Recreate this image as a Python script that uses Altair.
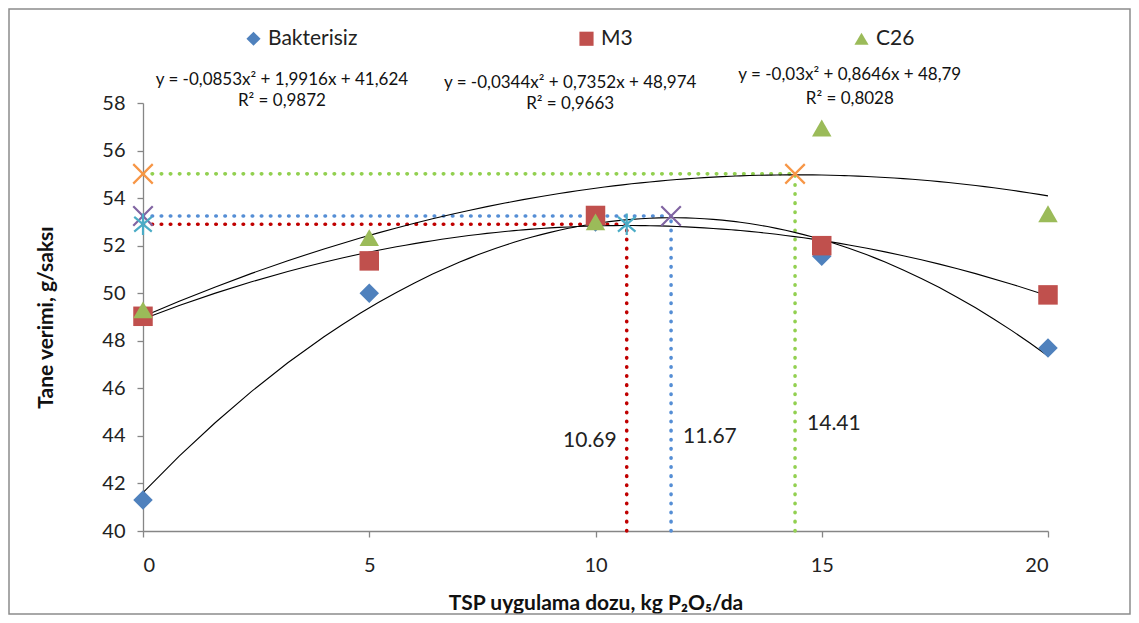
import altair as alt
import pandas as pd

# ---- data ----
doses = [0, 5, 10, 15, 20]
series_names = ["Bakterisiz", "M3", "C26"]
bakterisiz = [41.3, 50.0, 53.0, 51.55, 47.7]
m3 = [49.03, 51.36, 53.27, 52.0, 49.93]
c26 = [49.3, 52.34, 53.0, 56.95, 53.34]
series_colors = ["#4F81BD", "#C0504D", "#9BBB59"]
series_shapes = ["diamond", "square", "triangle-up"]

# optimum doses / yields (annotations)
opt_x = [11.67, 10.69, 14.41]
opt_y = [53.25, 52.90, 55.02]
opt_labels = ["11.67", "10.69", "14.41"]
opt_label_y = [43.95, 43.78, 44.5]
opt_label_side = ["right", "left", "right"]
dotted_colors = ["#558ED5", "#C00000", "#92D050"]
marker_colors = ["#8064A2", "#4BACC6", "#F79646"]
X_PATH = "M-1,-1L1,1M-1,1L1,-1"
STAR_PATH = "M-0.9,-0.75L0.9,0.75M-0.9,0.75L0.9,-0.75M0,-1.1L0,1.1"
marker_paths = [X_PATH, STAR_PATH, X_PATH]

# regression equation labels
eq_texts = ["y = -0,0853x² + 1,9916x + 41,624",
            "y = -0,0344x² + 0,7352x + 48,974",
            "y = -0,03x² + 0,8646x + 48,79"]
r2_texts = ["R² = 0,9872", "R² = 0,9663", "R² = 0,8028"]
eq_x = [3.07, 9.44, 15.62]
eq_y = [58.97, 58.84, 59.18]
r2_y = [58.08, 57.96, 58.17]

FONT = "Lato"
W, H = 905, 428

# ---- tables ----
pts = pd.DataFrame({
    "dose": doses * 3,
    "yield": bakterisiz + m3 + c26,
    "series": sum([[s] * len(doses) for s in series_names], []),
})

hlines = pd.DataFrame({"x": [0] * 3, "x2": opt_x, "y": opt_y, "c": dotted_colors})
vlines = pd.DataFrame({"x": opt_x, "y": [40] * 3, "y2": opt_y, "c": dotted_colors})
markers = pd.DataFrame({
    "x": [0] * 3 + opt_x,
    "y": opt_y * 2,
    "c": marker_colors * 2,
    "s": marker_paths * 2,
})
optlab = pd.DataFrame({"x": opt_x, "y": opt_label_y, "t": opt_labels, "side": opt_label_side})
eqs = pd.DataFrame({"x": eq_x * 2, "y": eq_y + r2_y, "t": eq_texts + r2_texts})

xs = alt.Scale(domain=[0, 20], nice=False)
ys = alt.Scale(domain=[40, 58], nice=False)

x_axis = alt.Axis(values=doses, title="TSP uygulama dozu, kg P₂O₅/da", grid=False,
                  labelPadding=18, titlePadding=17)
y_axis = alt.Axis(values=list(range(40, 59, 2)), title="Tane verimi, g/saksı", grid=False,
                  labelPadding=12, titlePadding=45)

dot_style = dict(strokeDash=[0.5, 8.6], strokeCap="round", strokeWidth=3.6)

h_rules = alt.Chart(hlines).mark_rule(**dot_style).encode(
    x=alt.X("x:Q", scale=xs, axis=x_axis),
    x2="x2:Q",
    y=alt.Y("y:Q", scale=ys, axis=y_axis),
    color=alt.Color("c:N", scale=None),
)
v_rules = alt.Chart(vlines).mark_rule(**dot_style).encode(
    x=alt.X("x:Q", scale=xs),
    y=alt.Y("y:Q", scale=ys),
    y2="y2:Q",
    color=alt.Color("c:N", scale=None),
)

trend = alt.Chart(pts).transform_regression(
    "dose", "yield", method="poly", order=2, groupby=["series"], extent=[0, 20]
).mark_line(color="black", strokeWidth=1.1).encode(
    x=alt.X("dose:Q", scale=xs),
    y=alt.Y("yield:Q", scale=ys),
    detail="series:N",
)

points = alt.Chart(pts).mark_point(filled=True, size=380, opacity=1).encode(
    x=alt.X("dose:Q", scale=xs),
    y=alt.Y("yield:Q", scale=ys),
    color=alt.Color("series:N", scale=alt.Scale(domain=series_names, range=series_colors),
                    sort=series_names,
                    legend=alt.Legend(title=None, orient="none", direction="horizontal",
                                      legendX=100, legendY=-75, columnPadding=218,
                                      labelFontSize=21, symbolSize=200, labelOffset=4,
                                      symbolStrokeWidth=0)),
    shape=alt.Shape("series:N", scale=alt.Scale(domain=series_names, range=series_shapes),
                    sort=series_names),
)

mark_layer = alt.Chart(markers).mark_point(filled=False, size=380, strokeWidth=2.2, opacity=1).encode(
    x=alt.X("x:Q", scale=xs),
    y=alt.Y("y:Q", scale=ys),
    color=alt.Color("c:N", scale=None),
    shape=alt.Shape("s:N", scale=None),
)

lab_right = alt.Chart(optlab).transform_filter(alt.datum.side == "right").mark_text(
    align="left", baseline="middle", dx=12, fontSize=21, color="#222222").encode(
    x=alt.X("x:Q", scale=xs), y=alt.Y("y:Q", scale=ys), text="t:N")
lab_left = alt.Chart(optlab).transform_filter(alt.datum.side == "left").mark_text(
    align="right", baseline="middle", dx=-10, fontSize=21, color="#222222").encode(
    x=alt.X("x:Q", scale=xs), y=alt.Y("y:Q", scale=ys), text="t:N")

eq_layer = alt.Chart(eqs).mark_text(align="center", baseline="middle", fontSize=17,
                                    color="#111111").encode(
    x=alt.X("x:Q", scale=xs), y=alt.Y("y:Q", scale=ys), text="t:N")

frame = alt.Chart(pd.DataFrame({"k": [0]})).mark_rect(
    fill=None, stroke="#8C8C8C", strokeWidth=1.5).encode(
    x=alt.value(-134), x2=alt.value(W + 82), y=alt.value(-94), y2=alt.value(H + 83))

chart = alt.layer(
    frame, h_rules, v_rules, trend, points, mark_layer, lab_right, lab_left, eq_layer
).properties(
    width=W, height=H,
    autosize=alt.AutoSizeParams(type="none"),
    padding={"left": 135, "top": 95, "right": 83, "bottom": 84},
).configure(
    font=FONT,
).configure_view(
    stroke=None,
).configure_axis(
    domainColor="#868686", tickColor="#868686", domainWidth=1.3, tickWidth=1.3,
    tickSize=6, labelFontSize=20, labelColor="#222222", labelFont=FONT,
    titleFontSize=21, titleFontWeight="bold", titleColor="#111111", titleFont=FONT,
).configure_legend(
    labelFont=FONT, labelColor="#222222",
)

chart.save("out.html", embed_options={"renderer": "svg", "actions": False})
